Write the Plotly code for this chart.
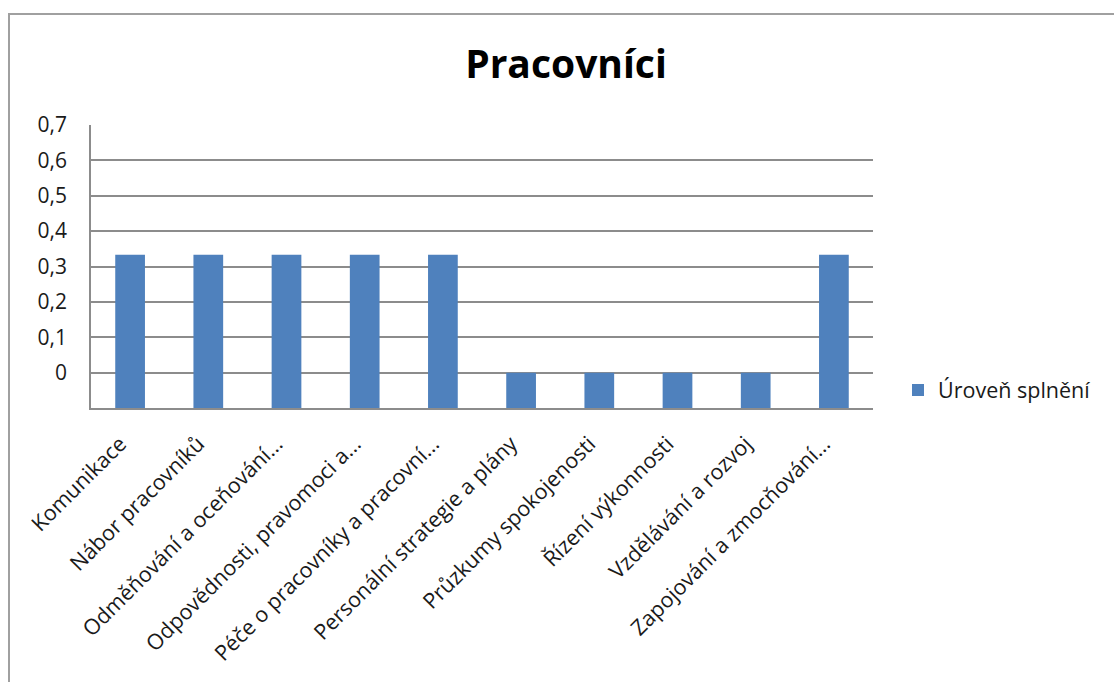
import plotly.graph_objects as go

# Categories (axis labels as printed, long names shortened with "...")
categories = [
    "Komunikace",
    "Nábor pracovníků",
    "Odměňování a oceňování...",
    "Odpovědnosti, pravomoci a...",
    "Péče o pracovníky a pracovní...",
    "Personální strategie a plány",
    "Průzkumy spokojenosti",
    "Řízení výkonnosti",
    "Vzdělávání a rozvoj",
    "Zapojování a zmocňování...",
]
# Level of fulfilment per area
uroven_splneni = [1/3, 1/3, 1/3, 1/3, 1/3, 0, 0, 0, 0, 1/3]

y_tick_values = [0, 0.1, 0.2, 0.3, 0.4, 0.5, 0.6, 0.7]
y_tick_labels = ["0", "0,1", "0,2", "0,3", "0,4", "0,5", "0,6", "0,7"]

# The category axis crosses the value axis at its minimum, so bars grow from there
axis_min = -0.1
axis_max = 0.7

bar_color = "#4F81BD"
grid_color = "#8c8c8c"
text_color = "#1a1a1a"
font_family = "Open Sans, Liberation Sans, sans-serif"

fig = go.Figure()
fig.add_trace(go.Bar(
    x=categories,
    y=[v - axis_min for v in uroven_splneni],
    base=axis_min,
    name="Úroveň splnění",
    marker=dict(color=bar_color, line=dict(width=0)),
    customdata=uroven_splneni,
    hovertemplate="%{x}: %{customdata:.2f}<extra></extra>",
))

W, H = 1114, 682
L, R, T, B = 91, 241, 125, 274
pw, ph = W - L - R, H - T - B

fig.update_layout(
    width=W, height=H,
    margin=dict(l=L, r=R, t=T, b=B, autoexpand=False),
    paper_bgcolor="white",
    plot_bgcolor="white",
    font=dict(family=font_family, color=text_color, size=20),
    title=dict(
        text="<b>Pracovníci</b>",
        x=566 / W, xanchor="center",
        y=1 - 64 / H, yanchor="middle",
        font=dict(family=font_family, size=39, color="#000000"),
    ),
    bargap=0.62,
    showlegend=True,
    legend=dict(
        x=(898 - L) / pw, xanchor="left",
        y=(408 - 390) / ph, yanchor="middle",
        font=dict(size=21.5, color=text_color),
        bgcolor="rgba(0,0,0,0)",
        itemwidth=30,
    ),
    xaxis=dict(
        type="category",
        tickangle=-45,
        ticks="",
        showgrid=False,
        showline=True, linecolor=grid_color, linewidth=1.5,
        tickfont=dict(size=21.5, color=text_color),
        ticklabelstandoff=13,
        ticklabelshift=-10,
    ),
    yaxis=dict(
        range=[axis_min, axis_max],
        tickvals=y_tick_values,
        ticktext=y_tick_labels,
        ticks="",
        showgrid=True, gridcolor=grid_color, gridwidth=1.5,
        zeroline=False,
        showline=True, linecolor=grid_color, linewidth=1.5,
        tickfont=dict(size=21, color=text_color),
        ticklabelstandoff=18,
    ),
    shapes=[
        # outer chart frame (top and left edges visible)
        dict(type="rect", xref="paper", yref="paper",
             x0=(9 - L) / pw, x1=(W + 20 - L) / pw,
             y0=(H - B - (H + 20)) / ph, y1=(H - B - 14) / ph,
             line=dict(color="#a0a0a0", width=2), fillcolor="rgba(0,0,0,0)",
             layer="below"),
    ],
)

fig.write_html("out.html")
